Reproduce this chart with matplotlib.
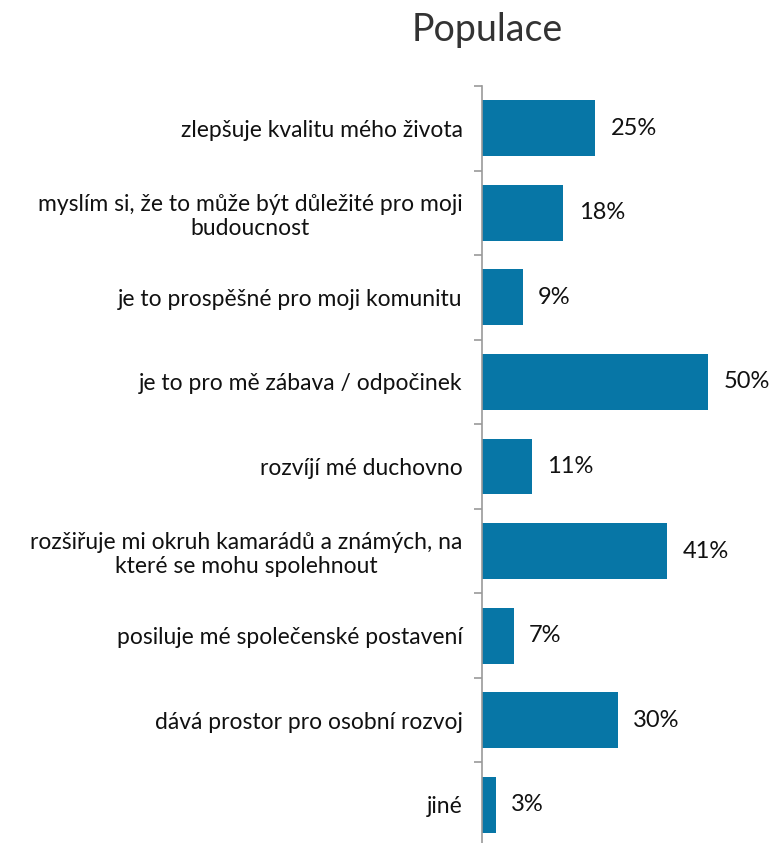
import matplotlib.pyplot as plt
import numpy as np

plt.rcParams['font.family'] = ['Lato', 'DejaVu Sans']

categories = [
    'zlepšuje kvalitu mého života',
    'myslím si, že to může být důležité pro moji\nbudoucnost',
    'je to prospěšné pro moji komunitu',
    'je to pro mě zábava / odpočinek',
    'rozvíjí mé duchovno',
    'rozšiřuje mi okruh kamarádů a známých, na\nkteré se mohu spolehnout',
    'posiluje mé společenské postavení',
    'dává prostor pro osobní rozvoj',
    'jiné',
]
values = [25, 18, 9, 50, 11, 41, 7, 30, 3]
bar_color = '#0776a6'

fig = plt.figure(figsize=(7.76, 8.43), dpi=100)
W, H = 776, 843
left, top, bottom = 482, 86, -4
ax = fig.add_axes([left / W, bottom / H, (W - left) / W, (H - top - bottom) / H])

y = np.arange(len(categories))
ax.barh(y, values, height=0.66, color=bar_color, edgecolor='none')

for yi, v in zip(y, values):
    ax.text(v + 3.4, yi, f'{v}%', va='center', ha='left', fontsize=17, color='#111111')

ax.set_xlim(0, 65)
ax.set_ylim(len(categories) - 0.5, -0.5)

# boundary ticks (unlabelled) and labels at category centres
ax.set_yticks(np.arange(len(categories) + 1) - 0.5)
ax.set_yticklabels([])
ax.set_yticks(y, minor=True)
ax.set_yticklabels(categories, minor=True, fontsize=16.5, color='#111111',
                   multialignment='center')
ax.tick_params(axis='y', which='major', length=5.5, color='#999999', width=1.2)
ax.tick_params(axis='y', which='minor', length=0, pad=14)
ax.set_xticks([])

for s in ['top', 'right', 'bottom']:
    ax.spines[s].set_visible(False)
ax.spines['left'].set_color('#999999')
ax.spines['left'].set_linewidth(1.2)

fig.text(487 / W, 1 - 30 / H, 'Populace', ha='center', va='center',
         fontsize=27, color='#333333')

fig.savefig('out.png', dpi=100)
